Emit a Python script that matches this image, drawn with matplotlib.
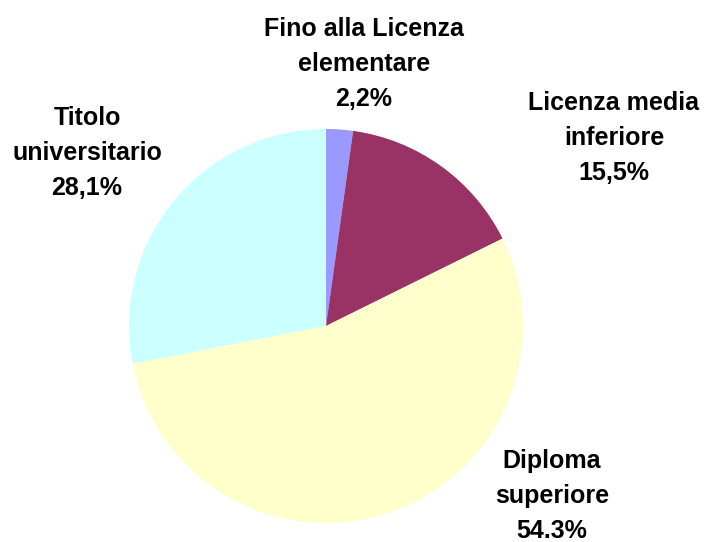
import matplotlib.pyplot as plt

# Titolo di studio - quote percentuali
categories = ['Fino alla Licenza\nelementare', 'Licenza media\ninferiore',
              'Diploma\nsuperiore', 'Titolo\nuniversitario']
values = [2.2, 15.5, 54.3, 28.1]
pct_labels = ['2,2%', '15,5%', '54.3%', '28,1%']
colors = ['#9999FF', '#993366', '#FFFFCC', '#CCFFFF']

W, H = 709, 542
fig = plt.figure(figsize=(W / 100, H / 100), dpi=100)
ax = fig.add_axes([0, 0, 1, 1])

cx, cy, r = 326, H - 326, 197
ax.pie(values, colors=colors, startangle=90, counterclock=False,
       center=(cx, cy), radius=r, frame=True,
       wedgeprops=dict(linewidth=0))
ax.set_xlim(0, W)
ax.set_ylim(0, H)
ax.set_aspect('equal')
ax.axis('off')

# label centres in pixels (x, y from top)
label_pos = [(364, 64), (614, 138), (552, 496), (87, 153)]
for cat, pct, (x, y) in zip(categories, pct_labels, label_pos):
    ax.text(x, H - y, cat + '\n' + pct, ha='center', va='center',
            fontsize=18, fontweight='bold', family='Liberation Sans',
            linespacing=1.6, color='black')

fig.savefig('out.png', dpi=100)
